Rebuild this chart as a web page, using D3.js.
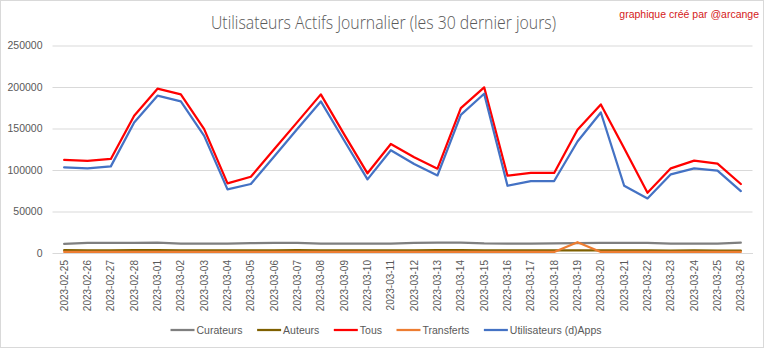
<!DOCTYPE html>
<html>
<head>
<meta charset="utf-8">
<script src="https://cdn.jsdelivr.net/npm/d3@7"></script>
<style>
  html, body { margin: 0; padding: 0; background: #ffffff; }
  svg { display: block; }
  text { font-family: "Liberation Sans", Arial, sans-serif; }
</style>
</head>
<body>
<svg id="chart" width="768" height="349"></svg>
<script>
// Daily active users, last 30 days
const dates = [
  "2023-02-25","2023-02-26","2023-02-27","2023-02-28","2023-03-01","2023-03-02",
  "2023-03-03","2023-03-04","2023-03-05","2023-03-06","2023-03-07","2023-03-08",
  "2023-03-09","2023-03-10","2023-03-11","2023-03-12","2023-03-13","2023-03-14",
  "2023-03-15","2023-03-16","2023-03-17","2023-03-18","2023-03-19","2023-03-20",
  "2023-03-21","2023-03-22","2023-03-23","2023-03-24","2023-03-25","2023-03-26"
];
const curateurs = [11000,12200,12300,12300,12400,11400,11300,11200,12000,12100,12200,11300,
  11200,11300,11200,12100,12400,12500,11500,11400,11400,11500,12000,12100,
  12200,12200,11300,11200,11300,12400];
const auteurs = [3400,3300,3300,3400,3500,3300,3200,3100,3200,3300,3400,3300,
  3200,3100,3200,3300,3400,3500,3300,3200,3100,3200,3300,3300,
  3200,3100,3000,3100,3000,2800];
const tous = [112100,110900,113300,165300,198000,191100,149200,83900,91900,125000,158000,191100,
  143000,96000,131400,115300,101600,174600,199600,93100,96400,96400,148400,179000,
  126200,72600,102000,111300,107700,83100];
const transferts = [1300,1300,1300,1300,1300,1300,1300,1300,1300,1300,1300,1300,
  1300,1300,1300,1300,1300,1300,1300,1300,1300,1300,13000,1300,
  1300,1300,1300,1300,1300,1300];
const dapps = [103200,102000,104400,157200,189500,182600,141100,76600,83100,116200,149600,182600,
  135500,88700,123800,107300,93500,166500,191900,81000,86700,86700,134300,169300,
  81000,65700,94800,102000,99200,74600];
const yTicks = [0,50000,100000,150000,200000,250000];

const seriesNames = ["Curateurs","Auteurs","Tous","Transferts","Utilisateurs (d)Apps"];
const seriesValues = [curateurs, auteurs, tous, transferts, dapps];
const seriesColors = ["#7f7f7f","#7f6000","#ff0000","#ed7d31","#4472c4"];

const svg = d3.select("#chart");
const W = 768, H = 349;

// chart frame
svg.append("rect")
  .attr("x", 0.5).attr("y", 0.5).attr("width", 763).attr("height", 347)
  .attr("fill", "#ffffff").attr("stroke", "#d9d9d9").attr("stroke-width", 1);

const plot = { left: 52.5, right: 752.5, top: 45.5, bottom: 253 };

const x = d3.scaleBand().domain(dates).range([plot.left, plot.right]);
const xc = d => x(d) + x.bandwidth() / 2;
const y = d3.scaleLinear().domain([0, 250000]).range([plot.bottom, plot.top]);

// title and credit
svg.append("text")
  .attr("x", 383.5).attr("y", 29)
  .attr("text-anchor", "middle")
  .attr("fill", "#595959")
  .style("font-family", "'Open Sans', 'Liberation Sans', sans-serif")
  .style("font-weight", 300)
  .style("font-size", "17.5px")
  .attr("textLength", 345).attr("lengthAdjust", "spacingAndGlyphs")
  .text("Utilisateurs Actifs Journalier (les 30 dernier jours)");

svg.append("text")
  .attr("x", 759).attr("y", 17.5)
  .attr("text-anchor", "end")
  .attr("fill", "#d42020")
  .style("font-size", "10.5px")
  .text("graphique créé par @arcange");

// y axis: gridlines and labels
const yAxis = d3.axisLeft(y).tickValues(yTicks).tickSize(-(plot.right - plot.left)).tickPadding(10)
  .tickFormat(d3.format("d"));
const gy = svg.append("g").attr("transform", `translate(${plot.left},0)`).call(yAxis);
gy.select(".domain").remove();
gy.selectAll(".tick line").attr("stroke", "#d9d9d9").attr("stroke-width", 1);
gy.selectAll(".tick text")
  .attr("fill", "#595959")
  .style("font-size", "10.5px")
  .style("font-family", "'Liberation Sans', Arial, sans-serif");

// x axis: category labels, rotated
const xAxis = d3.axisBottom(x).tickSize(0).tickPadding(0);
const gx = svg.append("g").attr("transform", `translate(0,${plot.bottom})`).call(xAxis);
gx.select(".domain").attr("stroke", "#d9d9d9");
gx.selectAll(".tick text")
  .attr("fill", "#595959")
  .style("font-size", "10px")
  .style("font-family", "'Liberation Sans', Arial, sans-serif")
  .attr("text-anchor", "end")
  .attr("transform", "rotate(-90)")
  .attr("x", -7).attr("y", 0).attr("dy", "0.35em");

// lines
const line = d3.line()
  .x((d, i) => xc(dates[i]))
  .y(d => y(d));

seriesValues.forEach((vals, k) => {
  svg.append("path")
    .datum(vals)
    .attr("fill", "none")
    .attr("stroke", seriesColors[k])
    .attr("stroke-width", 2.25)
    .attr("stroke-linejoin", "round")
    .attr("stroke-linecap", "round")
    .attr("d", line);
});

// legend
const legend = svg.append("g");
let cursor = 0;
const items = [];
seriesNames.forEach((name, k) => {
  const g = legend.append("g");
  g.append("line")
    .attr("x1", 0).attr("x2", 24).attr("y1", 0).attr("y2", 0)
    .attr("stroke", seriesColors[k]).attr("stroke-width", 2.25);
  const t = g.append("text")
    .attr("x", 26).attr("y", 0).attr("dy", "0.35em")
    .attr("fill", "#595959")
    .style("font-size", "10.5px")
    .text(name);
  const w = 26 + t.node().getComputedTextLength();
  g.attr("transform", `translate(${cursor},0)`);
  cursor += w + 14.5;
  items.push(g);
});
const legendWidth = cursor - 14.5;
legend.attr("transform", `translate(${386 - legendWidth / 2},330)`);
</script>
</body>
</html>
